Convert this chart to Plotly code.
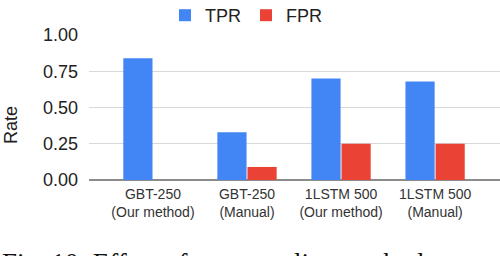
import plotly.graph_objects as go

categories = ["GBT-250<br>(Our method)", "GBT-250<br>(Manual)", "1LSTM 500<br>(Our method)", "1LSTM 500<br>(Manual)"]
tpr = [0.84, 0.33, 0.70, 0.68]
fpr = [0.0, 0.09, 0.25, 0.25]
y_ticks = [0, 0.25, 0.5, 0.75, 1.0]
y_tick_labels = ["0.00", "0.25", "0.50", "0.75", "1.00"]

W, H = 500, 256
L, R, T, B = 89, 0, 35, 76
PH = H - T - B
PW = W - L - R

def px_x(x):
    return (x - L) / PW

def px_y(y):
    return (H - B - y) / PH

fig = go.Figure()
fig.add_trace(go.Bar(name="TPR", x=categories, y=tpr, marker=dict(color="#4285F4", line=dict(width=0))))
fig.add_trace(go.Bar(name="FPR", x=categories, y=fpr, marker=dict(color="#EA4335", line=dict(width=0))))

font = "Liberation Sans, Arial, sans-serif"
fig.update_layout(
    width=W, height=H,
    margin=dict(l=L, r=R, t=T, b=B, pad=0, autoexpand=False),
    paper_bgcolor="white", plot_bgcolor="white",
    barmode="group", bargap=0.36, bargroupgap=0.03,
    font=dict(family=font, color="#222"),
    showlegend=True,
    legend=dict(orientation="h", x=px_x(165), xanchor="left", y=px_y(-3), yanchor="top",
                font=dict(size=18, color="#222"), itemwidth=30, traceorder="normal",
                bgcolor="rgba(0,0,0,0)"),
    xaxis=dict(type="category", range=[-0.68, 3.69], showgrid=False, showline=False, automargin=False,
               tickfont=dict(size=14, color="#333"), ticks="", ticklabelstandoff=4, fixedrange=True),
    yaxis=dict(range=[0, 1.0], tickvals=y_ticks, ticktext=y_tick_labels, showgrid=True, automargin=False,
               gridcolor="#d9d9d9", gridwidth=1, zeroline=True, zerolinecolor="#8c8c8c",
               zerolinewidth=2, showline=False, ticks="", ticklabelstandoff=10,
               tickfont=dict(size=18, color="#222")),
    annotations=[
        dict(text="Rate", textangle=-90, x=px_x(-1), y=px_y(125), xref="paper", yref="paper",
             showarrow=False, font=dict(size=18, color="#222", family=font), xanchor="left", yanchor="middle"),
        dict(text="Fig. 10: Effect of our sampling method", x=px_x(0), y=px_y(246), xref="paper", yref="paper",
             showarrow=False, font=dict(size=27, color="#111", family="Liberation Serif, Times New Roman, serif"),
             xanchor="left", yanchor="top"),
    ],
)

fig.write_html("out.html", config={"displayModeBar": False},
               post_script="document.body.style.margin='0';document.body.style.overflow='hidden';")
